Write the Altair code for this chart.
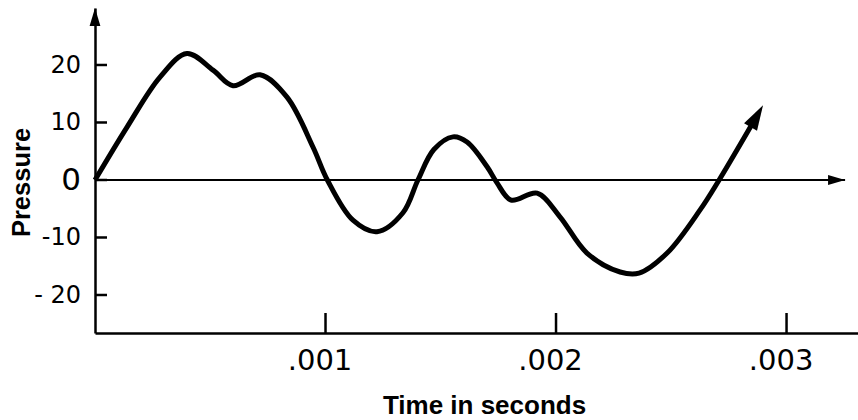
import altair as alt
import pandas as pd

# ---- data ----
time_s = [0.0, 0.000139, 0.000282, 0.000399, 0.000512, 0.000599, 0.000716, 0.000833,
          0.000946, 0.001008, 0.001119, 0.001223, 0.001336, 0.001401, 0.001470, 0.001553,
          0.001614, 0.001701, 0.001744, 0.001805, 0.001918, 0.002017, 0.002134, 0.002278,
          0.002360, 0.002482, 0.002625, 0.002703, 0.002859]
pressure = [0.0, 9.2, 17.9, 22.0, 19.1, 16.4, 18.3, 14.4,
            5.7, 0.0, -7.0, -9.0, -5.7, 0.0, 5.3, 7.5,
            6.6, 2.3, -0.5, -3.5, -2.3, -6.4, -12.7, -16.0,
            -16.2, -12.7, -5.2, -0.3, 10.3]

curve_tip = (0.002898, 13.0)          # arrowhead tip at end of the curve
zero_line_end = 0.003254               # arrowhead tip of the zero line
x_domain = [0.0, 0.003310]
y_domain = [-26.61, 29.91]

x_ticks = [0.001, 0.002, 0.003]
y_ticks = [-20, -10, 0, 10, 20]
y_tick_labels = ["- 20", "-10", "0", "10", "20"]

x_title = "Time in seconds"
y_title = "Pressure"

FONT = "Liberation Sans"
NUM_FONT = "DejaVu Sans"
W, H = 763, 325

curve_df = pd.DataFrame({"t": time_s, "p": pressure})
xt_df = pd.DataFrame({"t": x_ticks})
yt_df = pd.DataFrame({"p": y_ticks, "lab": y_tick_labels})
zero_df = pd.DataFrame({"t": [0.0], "t2": [zero_line_end], "p": [0.0]})
arrows_df = pd.DataFrame({
    "t": [curve_tip[0], zero_line_end, 0.0],
    "p": [curve_tip[1], 0.0, y_domain[1]],
    "ang": [30, 90, 0],
    "sz": [625, 289, 324],
})

xs = alt.Scale(domain=x_domain, nice=False, zero=False)
ys = alt.Scale(domain=y_domain, nice=False, zero=False)

x_axis = alt.Axis(
    values=x_ticks, labelExpr="substring(format(datum.value, '.3f'), 1)",
    ticks=False, grid=False, domainColor="black", domainWidth=2.5,
    labelFont=NUM_FONT, labelFontSize=29, labelColor="black", labelPadding=13,
    labelOffset=-6, labelFlush=False,
    title=x_title, titleFont=FONT, titleFontSize=26, titleFontWeight="bold",
    titleColor="black", titleBaseline="alphabetic", titleAlign="center",
    titleX=389, titleY=80,
)
y_axis = alt.Axis(
    values=y_ticks, labels=False,
    ticks=False, grid=False, domainColor="black", domainWidth=2.5,
    title=y_title, titleFont=FONT, titleFontSize=25.5, titleFontWeight="bold",
    titleColor="black", titleAngle=270, titleAlign="center", titleBaseline="middle",
    titleX=-74, titleY=174,
)

curve = alt.Chart(curve_df).mark_line(
    color="black", strokeWidth=5, interpolate="catmull-rom", strokeJoin="round"
).encode(
    x=alt.X("t:Q", scale=xs, axis=x_axis),
    y=alt.Y("p:Q", scale=ys, axis=y_axis),
)

zero_line = alt.Chart(zero_df).mark_rule(color="black", strokeWidth=2.2).encode(
    x=alt.X("t:Q"),
    x2="t2:Q",
    y=alt.Y("p:Q"),
)

x_tick_marks = alt.Chart(xt_df).mark_rule(color="black", strokeWidth=2.5).encode(
    x=alt.X("t:Q"),
    y=alt.value(H - 20), y2=alt.value(H),
)
y_tick_marks = alt.Chart(yt_df).mark_rule(color="black", strokeWidth=2.5).encode(
    y=alt.Y("p:Q"),
    x=alt.value(0), x2=alt.value(12),
)
y_tick_labels_layer = alt.Chart(yt_df).mark_text(
    align="right", baseline="middle", font=NUM_FONT, color="black", dy=1
).encode(
    y=alt.Y("p:Q"),
    x=alt.value(-14),
    text="lab:N",
    size=alt.condition("datum.p == 0", alt.value(31), alt.value(24)),
)

arrows = alt.Chart(arrows_df).mark_point(
    shape="M0,0L0.6,2L-0.6,2Z", filled=True, color="black", opacity=1, strokeWidth=0
).encode(
    x=alt.X("t:Q"),
    y=alt.Y("p:Q"),
    angle=alt.Angle("ang:Q", scale=None),
    size=alt.Size("sz:Q", scale=None, legend=None),
)

chart = alt.layer(
    curve, zero_line, x_tick_marks, y_tick_marks, y_tick_labels_layer, arrows
).properties(
    width=W, height=H,
    autosize=alt.AutoSizeParams(type="none"),
    padding={"left": 95, "top": 8, "right": 0, "bottom": 87},
    background="white",
).configure_view(stroke=None)

chart.save("out.html", embed_options={"renderer": "svg", "actions": False})
